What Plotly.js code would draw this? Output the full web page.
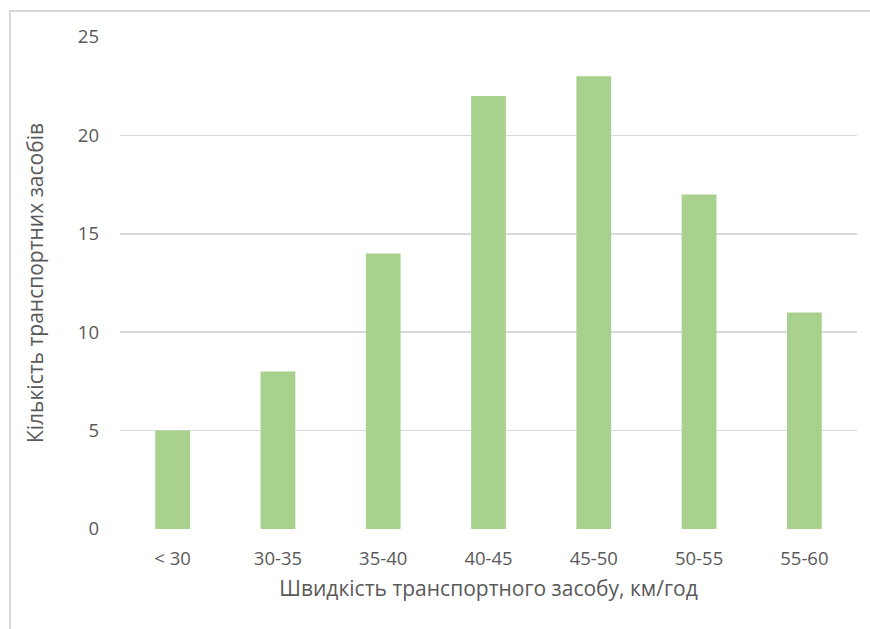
<!DOCTYPE html>
<html>
<head>
<meta charset="utf-8">
<script src="https://cdn.plot.ly/plotly-3.0.1.min.js"></script>
<style>
html,body{margin:0;padding:0;background:#fff;}
#chart{width:870px;height:629px;}
</style>
</head>
<body>
<div id="chart"></div>
<script>
const categories = ["< 30", "30-35", "35-40", "40-45", "45-50", "50-55", "55-60"];
const counts = [5, 8, 14, 22, 23, 17, 11];
const yTicks = [0, 5, 10, 15, 20, 25];
const xTitle = "Швидкість транспортного засобу, км/год";
const yTitle = "Кількість транспортних засобів";

const textColor = "#595959";
const gridColor = "#d9d9d9";
const fontFam = "'Open Sans', 'Noto Sans', sans-serif";

const trace = {
  type: "bar",
  x: categories,
  y: counts,
  marker: {color: "#a9d18e"},
  hoverinfo: "x+y"
};

const layout = {
  width: 870,
  height: 629,
  margin: {l: 120, r: 13, t: 37, b: 100},
  paper_bgcolor: "#ffffff",
  plot_bgcolor: "#ffffff",
  bargap: 0.67,
  showlegend: false,
  font: {family: fontFam, color: textColor, size: 18},
  xaxis: {
    type: "category",
    showgrid: false,
    showline: false,
    zeroline: false,
    ticks: "",
    ticklabelstandoff: 16,
    tickfont: {size: 18.5, color: textColor, family: fontFam},
    title: {text: xTitle, font: {size: 21, color: textColor, family: fontFam}, standoff: 12}
  },
  yaxis: {
    range: [0, 25],
    tickvals: yTicks,
    showgrid: true,
    gridcolor: gridColor,
    gridwidth: 1.5,
    zeroline: false,
    showline: false,
    ticks: "",
    ticklabelstandoff: 20,
    tickfont: {size: 18.5, color: textColor, family: fontFam},
    title: {text: yTitle, font: {size: 21, color: textColor, family: fontFam}, standoff: 28}
  },
  shapes: [{
    type: "rect",
    xref: "paper", yref: "paper",
    x0: (10 - 120) / 737, x1: (880 - 120) / 737,
    y0: -(700 - 529) / 492, y1: 1 + (37 - 11) / 492,
    line: {color: "#d9d9d9", width: 2},
    fillcolor: "rgba(0,0,0,0)",
    layer: "below"
  }]
};

Plotly.newPlot("chart", [trace], layout, {displayModeBar: false, staticPlot: true});
</script>
</body>
</html>
